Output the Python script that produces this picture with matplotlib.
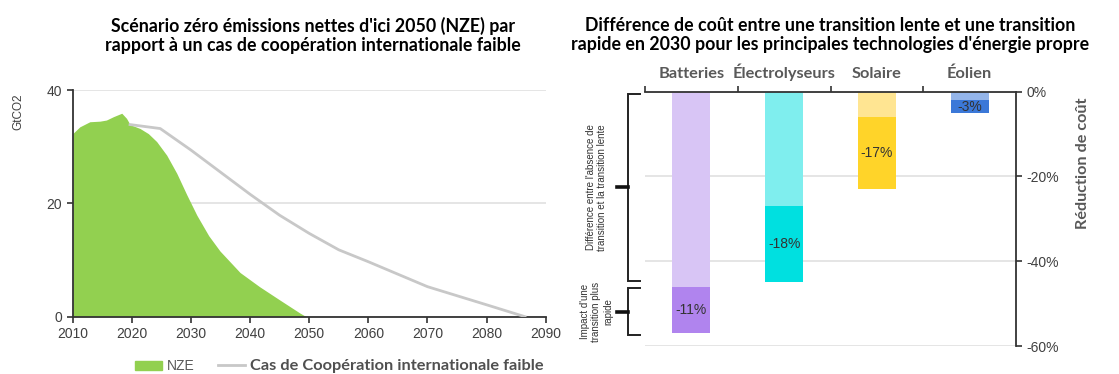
import matplotlib.pyplot as plt
from matplotlib.lines import Line2D
from matplotlib.patches import Patch

# CO2 emissions, GtCO2
nze_years = [2010, 2011.2, 2012.9, 2014.6, 2015.7, 2016.9, 2018.3, 2019.1, 2019.7,
             2021.4, 2022.8, 2024.2, 2025.9, 2027.6, 2029.3, 2031, 2033, 2034.9,
             2038.3, 2041.6, 2045.1, 2048.5, 2049.5]
nze_vals = [32.3, 33.5, 34.4, 34.5, 34.7, 35.3, 35.9, 35.0, 33.9,
            33.2, 32.3, 30.9, 28.5, 25.3, 21.5, 17.9, 14.3, 11.6,
            7.8, 5.3, 2.9, 0.6, 0.0]

low_coop_years = [2019.7, 2024.8, 2030, 2035, 2040, 2045, 2050, 2055, 2060, 2070, 2080, 2086.5]
low_coop_vals = [33.9, 33.2, 29.4, 25.5, 21.6, 17.9, 14.7, 11.8, 9.7, 5.3, 2.1, 0.0]

# cost reduction in 2030, %
techs = ['Batteries', 'Électrolyseurs', 'Solaire', 'Éolien']
slow_gap = [-46, -27, -6, -2]
fast_gap = [-11, -18, -17, -3]
light_cols = ['#D8C5F5', '#7FEEEE', '#FFE592', '#94B5EA']
dark_cols = ['#B084EE', '#00E0E0', '#FFD429', '#3B78D8']

title_left = "Scénario zéro émissions nettes d'ici 2050 (NZE) par\nrapport à un cas de coopération internationale faible"
title_right = ("Différence de coût entre une transition lente et une transition\n"
               "rapide en 2030 pour les principales technologies d'énergie propre")

TXT = '#404040'
GRID = '#E3E3E3'
AXC = '#333333'
sans = ['Liberation Sans', 'DejaVu Sans']
cal = ['Lato', 'DejaVu Sans']

fig = plt.figure(figsize=(11.19, 3.74), dpi=100)

# ---- left: emissions pathways
ax1 = fig.add_axes([72.7 / 1119, 57.3 / 374, 473 / 1119, 226.7 / 374])
ax1.fill_between(nze_years, nze_vals, 0, color='#92D050', lw=0, zorder=2)
ax1.plot(low_coop_years, low_coop_vals, color='#C8C8C8', lw=2, zorder=3)
ax1.set_xlim(2010, 2090)
ax1.set_ylim(0, 40)
ax1.set_xticks(range(2010, 2091, 10))
ax1.set_yticks([0, 20, 40])
ax1.yaxis.grid(True, color=GRID, lw=1.3)
ax1.set_axisbelow(True)
for s in ['top', 'right']:
    ax1.spines[s].set_visible(False)
for s in ['left', 'bottom']:
    ax1.spines[s].set_color(AXC)
    ax1.spines[s].set_linewidth(1.3)
ax1.tick_params(length=4, width=1.2, color=AXC, labelsize=10, labelcolor=TXT)
for lab in ax1.get_xticklabels() + ax1.get_yticklabels():
    lab.set_family(sans)
fig.text(18 / 1119, 1 - 112 / 374, 'GtCO2', rotation=90, ha='center', va='center',
         fontsize=8.5, color=TXT, family=sans)

leg = fig.legend(handles=[Patch(color='#92D050'), Line2D([], [], color='#C8C8C8', lw=2)],
                 labels=['NZE', 'Cas de Coopération internationale faible'],
                 loc='center', bbox_to_anchor=(339 / 1119, 1 - 366 / 374), ncol=2,
                 frameon=False, handlelength=1.95, handleheight=0.6, columnspacing=1.7,
                 handletextpad=0.35, borderpad=0, fontsize=10)
t_nze, t_low = leg.get_texts()
t_nze.set_family(sans)
t_nze.set_fontsize(10)
t_nze.set_color('#595959')
t_low.set_family(cal)
t_low.set_fontsize(11.8)
t_low.set_fontweight('bold')
t_low.set_color('#505050')

fig.text(313 / 1119, 1 - 35 / 374, title_left, ha='center', va='center',
         fontsize=12.8, fontweight='bold', family=cal, color='black', linespacing=1.15)

# ---- right: cost reduction bars
ax2 = fig.add_axes([645 / 1119, 28 / 374, 371 / 1119, 254.3 / 374])
x = list(range(len(techs)))
ax2.bar(x, slow_gap, width=0.41, color=light_cols, zorder=2)
ax2.bar(x, fast_gap, bottom=slow_gap, width=0.41, color=dark_cols, zorder=2)
for i in x:
    ax2.text(i, slow_gap[i] + fast_gap[i] / 2, f'{fast_gap[i]}%', ha='center', va='center',
             fontsize=10, color='#333333', family=sans, zorder=3)

ax2.set_xlim(-0.5, 3.5)
ax2.set_ylim(-60, 0)
ax2.set_yticks([0, -20, -40, -60])
ax2.set_yticklabels([f'{v}%' for v in [0, -20, -40, -60]])
ax2.yaxis.tick_right()
ax2.yaxis.grid(True, color=GRID, lw=1.3)
ax2.set_axisbelow(True)
ax2.xaxis.tick_top()
ax2.set_xticks([-0.5, 0.5, 1.5, 2.5])
ax2.set_xticklabels([])
ax2.set_xticks(x, minor=True)
ax2.set_xticklabels(techs, minor=True)
ax2.tick_params(axis='x', which='major', length=4, width=1.2, color=AXC, direction='out')
ax2.tick_params(axis='x', which='minor', length=0, pad=8, labelsize=11.8, labelcolor='#595959')
ax2.tick_params(axis='y', length=4, width=1.2, color=AXC, labelsize=10, labelcolor=TXT)
for lab in ax2.get_xticklabels(minor=True):
    lab.set_family(cal)
    lab.set_fontweight('bold')
for lab in ax2.get_yticklabels():
    lab.set_family(sans)
for s in ['left', 'bottom']:
    ax2.spines[s].set_visible(False)
for s in ['top', 'right']:
    ax2.spines[s].set_color(AXC)
    ax2.spines[s].set_linewidth(1.3)

fig.text(1083 / 1119, 1 - 163 / 374, 'Réduction de coût', rotation=90, ha='center',
         va='center', fontsize=11.7, fontweight='bold', color='#595959', family=cal)

# brackets on the left of the bars, following the Batteries split
tr = ax2.get_yaxis_transform()
xv, xs, xm = -0.045, -0.0135, -0.076
spans = [(-0.5, slow_gap[0] + 1.4), (slow_gap[0] - 0.4, slow_gap[0] + fast_gap[0] - 0.5)]
notes = ["Différence entre l'absence de\ntransition et la transition lente",
         "Impact d'une\ntransition plus\nrapide"]
for (y0, y1), note in zip(spans, notes):
    ax2.plot([xs, xv, xv, xs], [y0, y0, y1, y1], transform=tr, color='#222222',
             lw=1.4, clip_on=False, solid_joinstyle='miter')
    ym = (y0 + y1) / 2
    ax2.plot([xm, xv], [ym, ym], transform=tr, color='#111111', lw=2.6, clip_on=False)
    ax2.text(-0.131, ym, note, transform=tr, rotation=90, ha='center', va='center',
             fontsize=7, color='#333333', family=sans, linespacing=1.2,
             multialignment='center')

fig.text(830 / 1119, 1 - 35 / 374, title_right, ha='center', va='center',
         fontsize=12.8, fontweight='bold', family=cal, color='black', linespacing=1.15)

fig.savefig('out.png', dpi=100)
